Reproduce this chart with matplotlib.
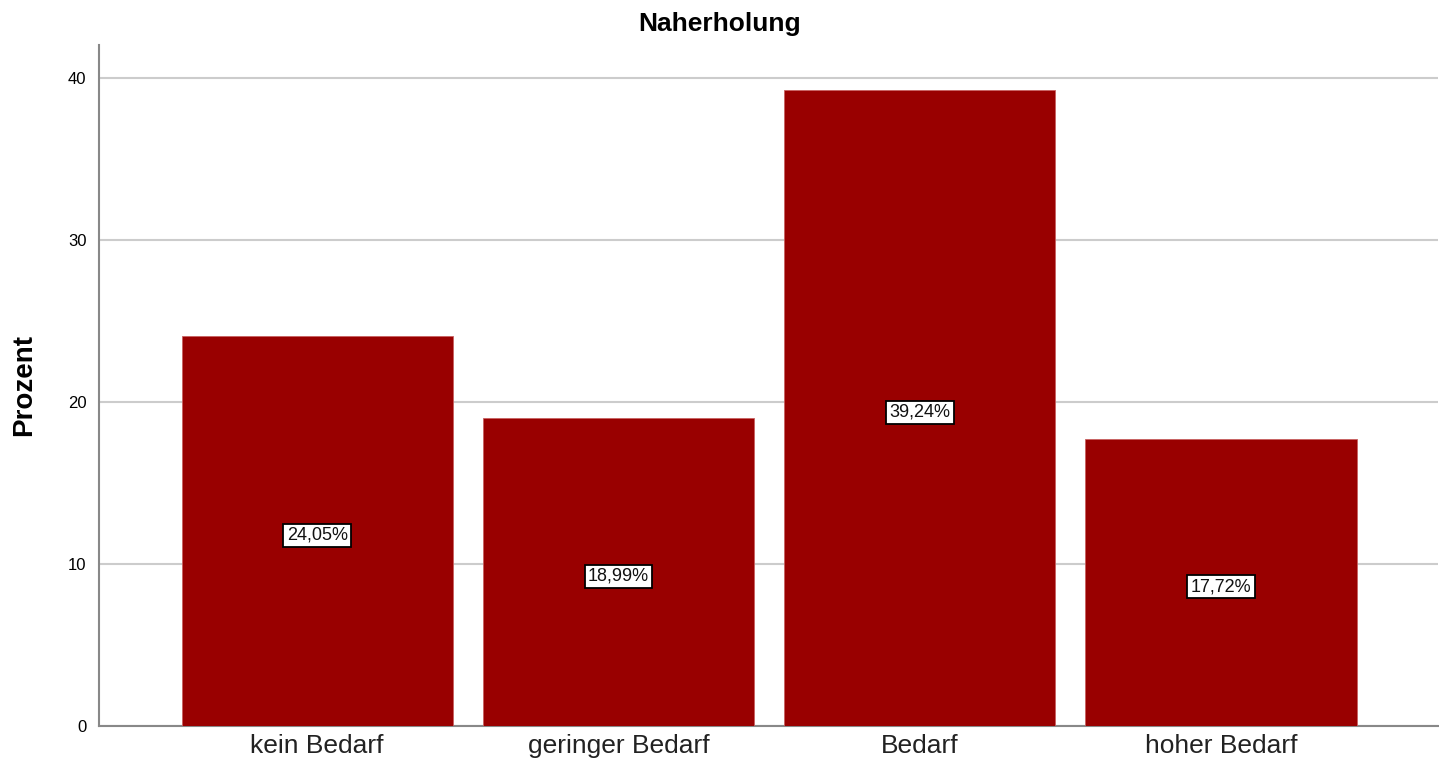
import matplotlib
matplotlib.use("Agg")
import matplotlib.pyplot as plt

categories = ["kein Bedarf", "geringer Bedarf", "Bedarf", "hoher Bedarf"]
values = [24.05, 18.99, 39.24, 17.72]
labels = ["24,05%", "18,99%", "39,24%", "17,72%"]
yticks = [0, 10, 20, 30, 40]

plt.rcParams['font.family'] = ['Liberation Sans', 'DejaVu Sans']

fig = plt.figure(figsize=(14.39, 7.68), dpi=100)
ax = fig.add_axes([0.0688, 0.0547, 0.9305, 0.8867])

x = list(range(len(categories)))
ax.bar(x, values, width=0.9, color="#990000", edgecolor="#c86060", linewidth=0.6, zorder=3)
for xi, v, lab in zip(x, values, labels):
    ax.annotate(lab, xy=(xi, v / 2), xytext=(0, -3), textcoords="offset points",
                ha="center", va="center", fontsize=13, color="#111111", zorder=5,
                bbox=dict(boxstyle="square,pad=0.18", facecolor="white", edgecolor="black", linewidth=1.3))

ax.set_xlim(-0.724, 3.72)
ax.set_ylim(0, 42.04)
ax.set_yticks(yticks)
ax.set_yticklabels([str(t) for t in yticks], fontsize=12)
ax.set_xticks(x)
ax.set_xticklabels(categories, fontsize=19, color="#222222")
ax.tick_params(axis="both", length=0, pad=9)
ax.tick_params(axis="x", pad=6)
ax.yaxis.grid(True, color="#cccccc", linewidth=1.5, zorder=0)
ax.set_axisbelow(True)
for s in ["top", "right"]:
    ax.spines[s].set_visible(False)
ax.spines["left"].set_color("#888888")
ax.spines["bottom"].set_color("#888888")
ax.spines["left"].set_linewidth(1.5)
ax.spines["bottom"].set_linewidth(1.5)

ax.set_ylabel("Prozent", fontsize=20, fontweight="bold", labelpad=22)
fig.text(0.5, 0.969, "Naherholung", ha="center", va="center", fontsize=19, fontweight="bold")

fig.savefig("out.png", dpi=100, facecolor="white")
